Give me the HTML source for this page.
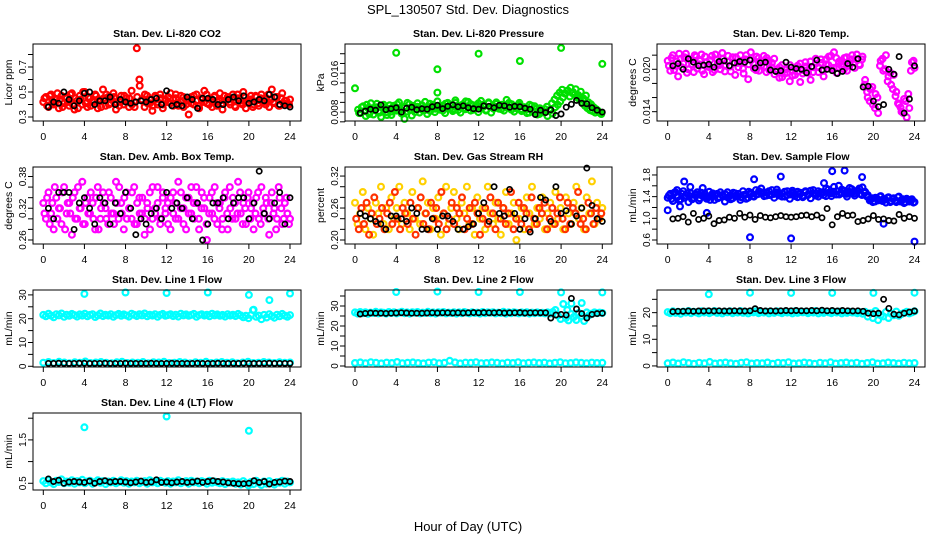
<!DOCTYPE html>
<html><head><meta charset="utf-8"><title>SPL_130507 Std. Dev. Diagnostics</title>
<style>
html,body{margin:0;padding:0;background:#fff;}
svg{display:block;font-family:"Liberation Sans",Arial,sans-serif;}
</style></head>
<body>
<svg id="chart" width="936" height="540" viewBox="0 0 936 540" xmlns="http://www.w3.org/2000/svg">
<rect width="936" height="540" fill="#fff"/>
<text x="468" y="14" text-anchor="middle" font-size="13">SPL_130507  Std. Dev. Diagnostics</text>
<text x="468" y="531" text-anchor="middle" font-size="13">Hour of Day (UTC)</text>
</svg>
<script>
var xTickValues=[0,4,8,12,16,20,24];
var xTickLabels=["0","4","8","12","16","20","24"];

var co2Main=[0.42,0.46,0.38,0.48,0.40,0.44,0.37,0.47,0.41,0.45,0.39,0.49,0.36,0.43,0.47,0.40,0.50,0.38,0.45,0.42,0.48,0.37,0.44,0.52,0.39,0.46,0.41,0.49,0.36,0.43,0.47,0.40,0.45,0.38,0.51,0.42,0.85,0.60,0.44,0.38,0.47,0.41,0.35,0.46,0.40,0.48,0.37,0.44,0.42,0.49,0.39,0.45,0.41,0.47,0.38,0.43,0.32,0.46,0.40,0.48,0.37,0.44,0.51,0.41,0.45,0.38,0.47,0.42,0.49,0.36,0.43,0.46,0.40,0.48,0.38,0.45,0.41,0.50,0.37,0.44,0.47,0.40,0.46,0.39,0.48,0.42,0.45,0.38,0.52,0.41,0.46,0.39,0.49,0.43,0.40,0.44];
var co2Extra=[0.45,0.39,0.47,0.43,0.41,0.49,0.44,0.38,0.46,0.42,0.48,0.40,0.45,0.37,0.44,0.50,0.41,0.46,0.39,0.43,0.47,0.42,0.38,0.45,0.48,0.40,0.44,0.46,0.41,0.39,0.43,0.47,0.42,0.45,0.40,0.38,0.46,0.55,0.43,0.48,0.41,0.44,0.39,0.47,0.42,0.45,0.40,0.43,0.46,0.41,0.44,0.48,0.39,0.42,0.46,0.40,0.44,0.41,0.47,0.43,0.39,0.45,0.42,0.48,0.40,0.44,0.46,0.39,0.43,0.41,0.47,0.44,0.42,0.45,0.39,0.48,0.43,0.40,0.46,0.42,0.44,0.38,0.47,0.41,0.45,0.43,0.40,0.48,0.44,0.42,0.46,0.39,0.45,0.41,0.43,0.40];
var co2Black=[0.38,0.42,0.41,0.50,0.44,0.39,0.43,0.49,0.50,0.40,0.43,0.43,0.46,0.40,0.44,0.42,0.41,0.42,0.43,0.42,0.44,0.45,0.40,0.51,0.39,0.40,0.39,0.46,0.44,0.37,0.45,0.45,0.44,0.40,0.40,0.44,0.46,0.43,0.47,0.41,0.42,0.44,0.43,0.48,0.46,0.40,0.39,0.38];
var co2TickValues=[0.3,0.4,0.5,0.6,0.7,0.8];
var co2TickLabels=["0.3","","0.5","","0.7",""];

var presMain=[0.0085,0.0078,0.0092,0.0072,0.0088,0.0098,0.0075,0.0090,0.0082,0.0070,0.0095,0.0080,0.0087,0.0074,0.0093,0.0083,0.0100,0.0077,0.0089,0.0081,0.0096,0.0073,0.0086,0.0091,0.0079,0.0094,0.0084,0.0076,0.0097,0.0088,0.0080,0.0102,0.0085,0.0093,0.0078,0.0099,0.0087,0.0082,0.0104,0.0090,0.0079,0.0096,0.0086,0.0101,0.0083,0.0094,0.0088,0.0080,0.0103,0.0091,0.0085,0.0098,0.0079,0.0092,0.0100,0.0087,0.0095,0.0083,0.0105,0.0089,0.0096,0.0081,0.0093,0.0099,0.0086,0.0090,0.0078,0.0095,0.0084,0.0092,0.0075,0.0088,0.0080,0.0086,0.0072,0.0083,0.0077,0.0090,0.0095,0.0102,0.0110,0.0118,0.0124,0.0130,0.0121,0.0127,0.0115,0.0122,0.0108,0.0114,0.0100,0.0096,0.0090,0.0086,0.0080,0.0076];
var presExtra=[0.0078,0.0090,0.0082,0.0095,0.0076,0.0088,0.0084,0.0097,0.0079,0.0092,0.0086,0.0074,0.0094,0.0081,0.0089,0.0096,0.0083,0.0077,0.0091,0.0099,0.0085,0.0093,0.0080,0.0098,0.0088,0.0084,0.0101,0.0090,0.0082,0.0095,0.0087,0.0093,0.0089,0.0083,0.0097,0.0091,0.0094,0.0086,0.0099,0.0084,0.0092,0.0088,0.0102,0.0090,0.0096,0.0085,0.0093,0.0098,0.0089,0.0095,0.0083,0.0100,0.0091,0.0087,0.0097,0.0092,0.0086,0.0094,0.0090,0.0099,0.0085,0.0091,0.0088,0.0095,0.0082,0.0090,0.0086,0.0079,0.0093,0.0081,0.0087,0.0076,0.0084,0.0079,0.0091,0.0084,0.0098,0.0106,0.0114,0.0120,0.0126,0.0118,0.0124,0.0112,0.0119,0.0116,0.0110,0.0105,0.0098,0.0093,0.0088,0.0084,0.0082,0.0079,0.0083,0.0078];
var presBlack=[0.0078,0.0082,0.0086,0.0084,0.0095,0.0085,0.0087,0.0089,0.0080,0.0088,0.0090,0.0085,0.0087,0.0086,0.0091,0.0094,0.0087,0.0092,0.0095,0.0091,0.0093,0.0089,0.0087,0.0086,0.0093,0.0092,0.0089,0.0094,0.0093,0.0090,0.0092,0.0091,0.0088,0.0086,0.0075,0.0084,0.0079,0.0085,0.0073,0.0076,0.0090,0.0096,0.0104,0.0098,0.0097,0.0089,0.0084,0.0080];
var presOutHours=[0,4,4.8,8,8,12,16,20,24];
var presOutValues=[0.0129,0.0202,0.0066,0.0168,0.0120,0.0200,0.0185,0.0212,0.0179];
var presTickValues=[0.006,0.008,0.010,0.012,0.014,0.016,0.018,0.020];
var presTickLabels=["","0.008","","","","0.016","",""];

var tempMain=[0.0212,0.0198,0.0220,0.0205,0.0190,0.0215,0.0208,0.0222,0.0200,0.0213,0.0196,0.0218,0.0207,0.0221,0.0193,0.0210,0.0203,0.0219,0.0199,0.0214,0.0206,0.0223,0.0197,0.0211,0.0204,0.0217,0.0192,0.0209,0.0220,0.0201,0.0214,0.0186,0.0224,0.0208,0.0199,0.0216,0.0205,0.0219,0.0196,0.0212,0.0203,0.0215,0.0200,0.0188,0.0206,0.0194,0.0201,0.0183,0.0198,0.0192,0.0205,0.0182,0.0199,0.0210,0.0195,0.0185,0.0203,0.0208,0.0196,0.0214,0.0190,0.0207,0.0218,0.0201,0.0224,0.0195,0.0211,0.0204,0.0216,0.0198,0.0209,0.0220,0.0202,0.0213,0.0206,0.0218,0.0185,0.0160,0.0172,0.0150,0.0165,0.0138,0.0212,0.0198,0.0220,0.0190,0.0178,0.0192,0.0168,0.0150,0.0140,0.0158,0.0132,0.0145,0.0210,0.0202];
var tempExtra=[0.0205,0.0216,0.0199,0.0211,0.0222,0.0203,0.0217,0.0195,0.0214,0.0207,0.0220,0.0201,0.0212,0.0198,0.0218,0.0204,0.0213,0.0196,0.0221,0.0208,0.0200,0.0215,0.0206,0.0219,0.0197,0.0210,0.0217,0.0203,0.0212,0.0194,0.0220,0.0207,0.0213,0.0201,0.0218,0.0198,0.0211,0.0204,0.0216,0.0199,0.0209,0.0193,0.0197,0.0203,0.0189,0.0200,0.0195,0.0206,0.0191,0.0201,0.0197,0.0208,0.0194,0.0204,0.0199,0.0211,0.0196,0.0215,0.0203,0.0209,0.0198,0.0214,0.0206,0.0219,0.0202,0.0216,0.0208,0.0212,0.0200,0.0217,0.0205,0.0214,0.0210,0.0221,0.0207,0.0214,0.0178,0.0168,0.0155,0.0175,0.0145,0.0160,0.0205,0.0215,0.0200,0.0183,0.0195,0.0172,0.0162,0.0152,0.0146,0.0138,0.0155,0.0165,0.0198,0.0212];
var tempBlack=[0.0205,0.0208,0.0200,0.0215,0.0210,0.0205,0.0206,0.0207,0.0203,0.0211,0.0212,0.0205,0.0209,0.0211,0.0210,0.0213,0.0202,0.0209,0.0210,0.0199,0.0197,0.0198,0.0210,0.0203,0.0201,0.0200,0.0195,0.0204,0.0213,0.0199,0.0200,0.0198,0.0194,0.0197,0.0208,0.0203,0.0215,0.0175,0.0176,0.0155,0.0147,0.0150,0.0200,0.0193,0.0218,0.0138,0.0158,0.0205];
var tempTickValues=[0.014,0.016,0.018,0.020,0.022];
var tempTickLabels=["0.014","","","0.020",""];

var ambMain=[0.33,0.30,0.35,0.31,0.28,0.34,0.32,0.29,0.36,0.31,0.33,0.27,0.35,0.30,0.32,0.37,0.29,0.34,0.31,0.33,0.28,0.36,0.30,0.35,0.32,0.29,0.34,0.31,0.37,0.30,0.33,0.28,0.35,0.32,0.30,0.36,0.29,0.34,0.31,0.27,0.33,0.35,0.30,0.32,0.36,0.29,0.34,0.31,0.33,0.28,0.35,0.30,0.37,0.32,0.29,0.34,0.31,0.36,0.30,0.33,0.28,0.35,0.32,0.26,0.34,0.31,0.36,0.29,0.33,0.30,0.35,0.28,0.32,0.34,0.30,0.37,0.31,0.33,0.29,0.35,0.32,0.28,0.34,0.30,0.36,0.31,0.33,0.27,0.35,0.32,0.30,0.34,0.29,0.33,0.31,0.30];
var ambExtra=[0.31,0.34,0.29,0.33,0.36,0.30,0.32,0.35,0.28,0.33,0.31,0.34,0.30,0.36,0.32,0.29,0.33,0.31,0.35,0.30,0.34,0.28,0.32,0.33,0.30,0.35,0.31,0.29,0.33,0.36,0.31,0.34,0.30,0.32,0.35,0.29,0.33,0.31,0.34,0.30,0.32,0.28,0.36,0.31,0.33,0.30,0.35,0.32,0.29,0.34,0.31,0.33,0.30,0.35,0.32,0.28,0.34,0.31,0.33,0.36,0.30,0.32,0.34,0.29,0.31,0.35,0.30,0.33,0.32,0.28,0.34,0.31,0.36,0.30,0.33,0.31,0.35,0.29,0.32,0.34,0.30,0.33,0.31,0.35,0.29,0.32,0.34,0.30,0.33,0.31,0.28,0.36,0.32,0.30,0.34,0.29];
var ambBlack=[0.32,0.30,0.35,0.35,0.35,0.28,0.33,0.34,0.32,0.29,0.34,0.33,0.29,0.33,0.31,0.35,0.32,0.27,0.30,0.29,0.31,0.32,0.30,0.35,0.32,0.33,0.32,0.34,0.30,0.33,0.26,0.29,0.33,0.33,0.34,0.30,0.33,0.34,0.34,0.30,0.33,0.39,0.31,0.30,0.33,0.35,0.29,0.34];
var ambTickValues=[0.26,0.28,0.30,0.32,0.34,0.36,0.38];
var ambTickLabels=["0.26","","","0.32","","","0.38"];

var rhRed=[0.24,0.22,0.26,0.23,0.27,0.21,0.25,0.28,0.23,0.24,0.26,0.22,0.25,0.27,0.23,0.29,0.24,0.22,0.26,0.25,0.23,0.27,0.24,0.21,0.26,0.28,0.23,0.25,0.22,0.27,0.24,0.26,0.23,0.29,0.25,0.22,0.24,0.27,0.23,0.26,0.25,0.28,0.22,0.24,0.26,0.23,0.27,0.25,0.21,0.24,0.26,0.23,0.28,0.25,0.22,0.27,0.24,0.26,0.23,0.25,0.29,0.22,0.24,0.27,0.23,0.26,0.25,0.22,0.28,0.24,0.23,0.26,0.25,0.27,0.22,0.24,0.26,0.23,0.25,0.28,0.24,0.22,0.27,0.23,0.26,0.25,0.29,0.23,0.24,0.22,0.27,0.25,0.23,0.26,0.24,0.25];
var rhYellow=[0.27,0.23,0.25,0.29,0.22,0.26,0.24,0.21,0.27,0.25,0.30,0.23,0.26,0.22,0.28,0.24,0.26,0.30,0.23,0.27,0.25,0.22,0.29,0.24,0.26,0.23,0.31,0.25,0.27,0.22,0.26,0.24,0.28,0.21,0.25,0.30,0.23,0.26,0.29,0.24,0.22,0.27,0.25,0.30,0.23,0.26,0.21,0.28,0.24,0.26,0.22,0.30,0.25,0.23,0.27,0.24,0.21,0.26,0.29,0.23,0.25,0.27,0.20,0.24,0.26,0.22,0.28,0.25,0.30,0.23,0.26,0.24,0.28,0.22,0.25,0.27,0.23,0.29,0.24,0.26,0.22,0.28,0.25,0.23,0.27,0.30,0.24,0.26,0.22,0.28,0.25,0.31,0.23,0.27,0.24,0.26];
var rhBlack=[0.25,0.245,0.24,0.235,0.23,0.22,0.245,0.245,0.24,0.235,0.26,0.25,0.22,0.22,0.24,0.22,0.245,0.245,0.235,0.22,0.22,0.225,0.23,0.25,0.27,0.235,0.30,0.25,0.245,0.295,0.25,0.22,0.24,0.215,0.24,0.28,0.275,0.235,0.30,0.25,0.255,0.23,0.245,0.26,0.335,0.265,0.24,0.235];
var rhTickValues=[0.20,0.22,0.24,0.26,0.28,0.30,0.32];
var rhTickLabels=["0.20","","","0.26","","","0.32"];

var flowMain=[1.38,1.45,1.32,1.48,1.40,1.35,1.50,1.42,1.30,1.46,1.38,1.44,1.33,1.47,1.40,1.36,1.49,1.41,1.34,1.45,1.39,1.43,1.31,1.48,1.42,1.37,1.46,1.40,1.34,1.50,1.44,1.38,1.47,1.41,1.52,1.45,1.55,1.48,1.42,1.50,1.44,1.38,1.53,1.46,1.40,1.49,1.43,1.36,1.51,1.45,1.39,1.47,1.42,1.50,1.44,1.37,1.52,1.46,1.40,1.48,1.43,1.55,1.47,1.41,1.58,1.50,1.44,1.53,1.46,1.40,1.56,1.48,1.42,1.51,1.45,1.57,1.49,1.43,1.36,1.30,1.38,1.33,1.41,1.35,1.29,1.39,1.32,1.37,1.30,1.40,1.34,1.28,1.36,1.31,1.35,1.30];
var flowExtra=[1.42,1.36,1.47,1.40,1.33,1.45,1.38,1.46,1.41,1.35,1.43,1.48,1.37,1.42,1.45,1.39,1.34,1.46,1.43,1.37,1.48,1.40,1.44,1.38,1.35,1.47,1.42,1.45,1.39,1.43,1.36,1.49,1.45,1.40,1.44,1.50,1.46,1.41,1.47,1.43,1.52,1.45,1.48,1.42,1.46,1.40,1.50,1.44,1.47,1.41,1.49,1.45,1.39,1.48,1.43,1.51,1.46,1.42,1.50,1.45,1.48,1.41,1.53,1.46,1.49,1.44,1.60,1.47,1.51,1.45,1.49,1.54,1.46,1.50,1.55,1.43,1.47,1.40,1.33,1.37,1.31,1.36,1.40,1.32,1.35,1.38,1.30,1.36,1.33,1.39,1.31,1.35,1.30,1.34,1.32,1.29];
var flowBlack=[0.99,1.00,1.03,0.93,1.09,0.98,1.00,1.04,0.90,0.96,0.97,1.02,1.00,1.09,1.02,1.06,0.98,1.05,1.02,1.01,1.03,1.05,1.03,1.02,1.03,1.05,1.06,1.03,1.06,1.01,1.18,0.88,1.03,1.09,1.05,1.06,0.94,0.96,0.99,1.05,0.98,0.99,0.96,0.95,1.07,1.00,1.03,1.00];
var flowOutHours=[0,0.9,1.6,2.2,3.4,8,8.4,11,12,15.2,16,17.2,18.9,24,21,1.2,3.8];
var flowOutValues=[1.15,1.52,1.68,1.58,1.56,0.65,1.72,1.77,0.63,1.65,1.87,1.88,1.76,0.57,0.90,1.22,1.10];
var flowTickValues=[0.6,0.8,1.0,1.2,1.4,1.6,1.8];
var flowTickLabels=["0.6","","1.0","","1.4","","1.8"];

var l1Main=[21.6,21.0,22.1,21.3,20.6,21.9,21.4,22.2,20.8,21.7,21.2,22.0,21.5,20.9,21.8,21.3,22.1,21.0,21.6,21.9,20.7,21.4,22.2,21.1,21.7,21.3,21.9,20.8,21.5,22.0,21.2,21.8,21.4,20.9,22.1,21.6,21.1,21.9,21.4,22.2,21.0,21.7,21.3,21.9,20.8,21.6,22.0,21.2,21.5,21.9,21.1,21.7,20.9,22.1,21.4,21.8,21.2,21.6,22.0,20.8,21.5,21.9,21.3,21.7,21.0,22.1,21.4,21.8,21.2,21.6,20.9,21.9,21.3,21.7,21.1,22.0,21.4,20.6,21.2,20.2,21.5,23.8,20.8,21.3,19.8,21.6,20.5,21.9,21.1,20.4,21.7,21.0,22.0,21.3,20.8,21.5];
var l1Low=[1.5,1.8,1.4,1.9,1.6,1.3,1.7,1.5,2.0,1.4,1.6,1.8,1.5,1.3,1.7,1.9,1.4,1.6,1.5,1.8,1.3,1.7,1.6,1.9,1.4,1.5,1.8,1.6,1.3,1.7,1.5,1.9,1.4,1.6,1.8,1.5,1.7,1.3,1.6,1.9,1.4,1.5,1.8,1.6,1.4,1.7,1.5,1.6];
var l1Black=[1.2,1.2,1.3,1.2,1.2,1.2,1.3,1.3,1.2,1.2,1.2,1.3,1.2,1.2,1.2,1.3,1.2,1.2,1.2,1.2,1.3,1.2,1.2,1.2,1.3,1.2,1.2,1.2,1.2,1.3,1.2,1.2,1.2,1.3,1.2,1.2,1.2,1.2,1.3,1.2,1.2,1.2,1.2,1.3,1.2,1.2,1.2,1.2];
var l1OutHours=[4,8,12,16,20,20.4,22,24];
var l1OutValues=[30.4,31.0,30.8,31.0,30.0,23.6,27.8,30.6];
var l1TickValues=[0,5,10,15,20,25,30];
var l1TickLabels=["0","","10","","20","","30"];

var l2Main=[26.8,26.2,27.0,26.4,26.9,26.1,26.7,26.5,27.1,26.3,26.8,26.6,26.2,27.0,26.5,26.9,26.3,26.7,27.1,26.4,26.8,26.2,26.9,26.6,27.0,26.3,26.7,26.5,27.1,26.4,26.8,26.2,26.9,26.6,27.0,26.3,26.7,26.5,26.9,26.2,26.8,26.4,27.0,26.6,26.3,26.9,26.5,26.7,26.2,27.0,26.4,26.8,26.6,26.9,26.3,26.7,26.5,27.1,26.2,26.8,26.4,26.9,26.6,26.3,26.8,26.5,26.9,26.2,26.7,26.4,26.8,26.5,26.6,26.3,26.8,26.2,27.0,28.0,25.2,23.5,31.0,24.0,22.8,26.0,24.5,23.0,26.5,25.0,22.5,26.8,25.5,26.2,26.8,26.4,26.7,26.5];
var l2Low=[1.5,1.8,1.4,1.9,1.6,1.3,1.7,1.5,2.0,1.4,1.6,1.8,1.5,1.3,1.7,1.9,1.4,1.6,2.6,1.8,1.3,1.7,1.6,1.9,1.4,1.5,1.8,1.6,1.3,1.7,1.5,1.9,1.4,1.6,1.8,1.5,1.7,1.3,1.6,1.9,1.4,1.5,1.8,1.6,1.4,1.7,1.5,1.6];
var l2Black=[26.0,26.3,26.5,26.4,26.4,26.3,26.4,26.5,26.6,26.5,26.4,26.4,26.4,26.5,26.6,26.5,26.6,26.6,26.5,26.6,26.5,26.6,26.7,26.6,26.7,26.6,26.6,26.7,26.5,26.6,26.6,26.7,26.5,26.6,26.6,26.6,26.6,24.0,25.5,25.8,25.5,33.8,28.5,26.2,24.0,25.8,26.2,26.4];
var l2OutHours=[4,8,12,16,20,20.6,21,22,24];
var l2OutValues=[37.0,37.2,37.0,37.0,36.8,28.0,31.2,31.5,36.8];
var l2TickValues=[0,5,10,15,20,25,30,35];
var l2TickLabels=["0","","10","","20","","30",""];

var l3Main=[20.2,19.8,20.5,19.9,20.3,19.6,20.4,20.0,20.6,19.8,20.3,20.1,19.7,20.5,20.0,20.4,19.8,20.2,20.6,19.9,20.3,19.7,20.4,20.1,20.5,19.8,20.2,20.0,20.6,19.9,20.3,19.7,20.4,20.1,20.5,19.8,20.2,20.0,20.4,19.7,20.3,19.9,20.5,20.1,19.8,20.4,20.0,20.2,19.7,20.5,19.9,20.3,20.1,20.4,19.8,20.2,20.0,20.6,19.7,20.3,19.9,20.4,20.1,19.8,20.3,20.0,20.4,19.7,20.2,19.9,20.3,20.0,20.1,19.8,20.2,19.6,20.3,18.5,19.8,18.0,20.6,17.2,19.0,18.6,20.2,18.0,19.6,19.0,20.4,18.8,19.5,19.9,20.3,19.7,20.1,20.5];
var l3Low=[1.0,1.3,0.9,1.4,1.1,0.8,1.2,1.0,1.5,0.9,1.1,1.3,1.0,0.8,1.2,1.4,0.9,1.1,1.0,1.3,0.8,1.2,1.1,1.4,0.9,1.0,1.3,1.1,0.8,1.2,1.0,1.4,0.9,1.1,1.3,1.0,1.2,0.8,1.1,1.4,0.9,1.0,1.3,1.1,0.9,1.2,1.0,1.1];
var l3Black=[20.4,20.5,20.5,20.6,20.5,20.6,20.6,20.7,20.6,20.7,20.6,20.6,20.7,20.6,20.6,20.7,21.5,20.8,20.6,20.7,20.6,20.7,20.8,20.7,20.8,20.7,20.7,20.8,20.7,20.9,20.7,20.8,20.6,20.8,20.7,20.6,20.7,20.5,19.8,19.6,19.8,25.0,21.6,19.4,19.2,19.8,20.2,20.6];
var l3OutHours=[4,8,12,16,20,24];
var l3OutValues=[26.9,27.5,27.4,27.4,27.4,27.5];
var l3TickValues=[0,5,10,15,20,25];
var l3TickLabels=["0","","10","","20",""];

var l4Main=[0.55,0.50,0.57,0.52,0.48,0.56,0.53,0.59,0.50,0.54,0.51,0.57,0.49,0.55,0.52,0.58,0.50,0.54,0.56,0.49,0.53,0.57,0.51,0.55,0.48,0.54,0.52,0.56,0.50,0.53,0.57,0.51,0.55,0.49,0.54,0.52,0.56,0.50,0.53,0.55,0.49,0.57,0.52,0.54,0.50,0.56,0.53,0.51,0.55,0.49,0.54,0.52,0.57,0.50,0.53,0.55,0.49,0.56,0.52,0.54,0.50,0.55,0.53,0.49,0.56,0.51,0.54,0.52,0.50,0.55,0.48,0.53,0.51,0.54,0.49,0.52,0.47,0.55,0.50,0.45,0.53,0.48,0.56,0.51,0.46,0.54,0.49,0.55,0.50,0.47,0.53,0.51,0.56,0.49,0.54,0.52];
var l4Black=[0.60,0.54,0.57,0.50,0.53,0.54,0.53,0.52,0.55,0.50,0.54,0.56,0.53,0.54,0.54,0.53,0.51,0.53,0.55,0.52,0.53,0.58,0.52,0.53,0.51,0.53,0.54,0.52,0.53,0.55,0.52,0.54,0.56,0.54,0.53,0.51,0.50,0.49,0.49,0.50,0.56,0.52,0.54,0.48,0.52,0.53,0.55,0.54];
var l4OutHours=[4,12,20];
var l4OutValues=[1.79,2.04,1.71];
var l4TickValues=[0.5,1.0,1.5,2.0];
var l4TickLabels=["0.5","","1.5",""];

var NS="http://www.w3.org/2000/svg";
var svg=document.getElementById("chart");
var colX=[{l:33,r:301,x0:43.3,x24:290},{l:345,r:612,x0:355,x24:602.3},{l:657,r:925,x0:667.7,x24:914.5}];
var rowY=[{t:44,b:121},{t:167,b:244},{t:290,b:367},{t:413,b:490}];

function mk(tag,attrs,parent){var e=document.createElementNS(NS,tag);for(var k in attrs)e.setAttribute(k,attrs[k]);(parent||svg).appendChild(e);return e;}

function panel(o){
  var c=colX[o.col],r=rowY[o.row];
  var g=mk("g",{});
  
  
  var xs=function(h){return c.x0+(h/24)*(c.x24-c.x0);};
  var ys=function(v){return r.b-(v-o.ymin)/(o.ymax-o.ymin)*(r.b-r.t);};
  var t=mk("text",{x:(c.l+c.r)/2,y:r.t-7,"text-anchor":"middle","font-size":"10.5","font-weight":"bold"},g);
  t.textContent=o.title;
  
  
  var yl=mk("text",{x:0,y:0,"text-anchor":"middle","font-size":"10.5",transform:"translate("+(c.l-21)+","+((r.t+r.b)/2)+") rotate(-90)"},g);
  yl.textContent=o.ylab;
  
  
  o.series.forEach(function(s){
    var isBlack=(s.color==="#000");
    var sg=mk("g",{fill:"none",stroke:s.color,"stroke-width":isBlack?"1.7":"2.2"},g);
    
    
    var n=s.values.length;
    for(var i=0;i<n;i++){
      var h=s.hours?s.hours[i]:(s.h0+(s.h1-s.h0)*i/(n-1));
      var p=mk("circle",{cx:xs(h).toFixed(1),cy:ys(s.values[i]).toFixed(1),r:isBlack?"2.6":"2.9"},sg);
      
      
    }
  });
  var bx=mk("rect",{x:c.l,y:r.t,width:c.r-c.l,height:r.b-r.t,fill:"none",stroke:"#000","stroke-width":"1"},g);
  
  
  var xa=mk("g",{stroke:"#000","stroke-width":"1"},g);
  
  
  mk("line",{x1:xs(xTickValues[0]),x2:xs(xTickValues[xTickValues.length-1]),y1:r.b,y2:r.b},xa);
  xTickValues.forEach(function(v,i){
    var x=xs(v);
    mk("line",{x1:x,x2:x,y1:r.b,y2:r.b+5},xa);
    var tl=mk("text",{x:x,y:r.b+19,"text-anchor":"middle","font-size":"10.5",stroke:"none",fill:"#000"},g);
    tl.textContent=xTickLabels[i];
    
    
  });
  var ya=mk("g",{stroke:"#000","stroke-width":"1"},g);
  
  
  mk("line",{x1:c.l,x2:c.l,y1:ys(o.ticks[0]),y2:ys(o.ticks[o.ticks.length-1])},ya);
  o.ticks.forEach(function(v,i){
    var y=ys(v);
    mk("line",{x1:c.l-5,x2:c.l,y1:y,y2:y},ya);
    if(o.tickLabels[i]){
      var tl=mk("text",{x:0,y:0,"text-anchor":"middle","font-size":"10",fill:"#000",transform:"translate("+(c.l-7)+","+y+") rotate(-90)"},g);
      tl.textContent=o.tickLabels[i];
      
      
    }
  });
}

var BLK="#000";
panel({name:"panel-co2",col:0,row:0,title:"Stan. Dev. Li-820 CO2",ylab:"Licor ppm",ymin:0.268,ymax:0.884,ticks:co2TickValues,tickLabels:co2TickLabels,
 series:[{name:"co2-series",color:"#ff0000",values:co2Main,h0:0,h1:24},{name:"co2-series-b",color:"#ff0000",values:co2Extra,h0:0.12,h1:23.9},{name:"co2-black",color:BLK,values:co2Black,h0:0.5,h1:24}]});
panel({name:"panel-pressure",col:1,row:0,title:"Stan. Dev. Li-820 Pressure",ylab:"kPa",ymin:0.00617,ymax:0.0220,ticks:presTickValues,tickLabels:presTickLabels,
 series:[{name:"pressure-series",color:"#00e000",values:presMain,h0:0.3,h1:23.9},{name:"pressure-series-b",color:"#00e000",values:presExtra,h0:0.4,h1:23.8},{name:"pressure-outliers",color:"#00e000",values:presOutValues,hours:presOutHours},{name:"pressure-black",color:BLK,values:presBlack,h0:0.5,h1:24}]});
panel({name:"panel-temp",col:2,row:0,title:"Stan. Dev. Li-820 Temp.",ylab:"degrees C",ymin:0.01268,ymax:0.02358,ticks:tempTickValues,tickLabels:tempTickLabels,
 series:[{name:"temp-series",color:"#ff00ff",values:tempMain,h0:0,h1:24},{name:"temp-series-b",color:"#ff00ff",values:tempExtra,h0:0.12,h1:23.9},{name:"temp-black",color:BLK,values:tempBlack,h0:0.5,h1:24}]});
panel({name:"panel-amb-temp",col:0,row:1,title:"Stan. Dev. Amb. Box Temp.",ylab:"degrees C",ymin:0.2524,ymax:0.398,ticks:ambTickValues,tickLabels:ambTickLabels,
 series:[{name:"amb-series",color:"#ff00ff",values:ambMain,h0:0,h1:24},{name:"amb-series-b",color:"#ff00ff",values:ambExtra,h0:0.12,h1:23.9},{name:"amb-black",color:BLK,values:ambBlack,h0:0.5,h1:24}]});
panel({name:"panel-rh",col:1,row:1,title:"Stan. Dev. Gas Stream RH",ylab:"percent",ymin:0.1925,ymax:0.337,ticks:rhTickValues,tickLabels:rhTickLabels,
 series:[{name:"rh-yellow",color:"#ffd000",values:rhYellow,h0:0,h1:24},{name:"rh-red",color:"#ff3000",values:rhRed,h0:0.12,h1:23.9},{name:"rh-black",color:BLK,values:rhBlack,h0:0.5,h1:24}]});
panel({name:"panel-sample-flow",col:2,row:1,title:"Stan. Dev. Sample Flow",ylab:"mL/min",ymin:0.526,ymax:1.947,ticks:flowTickValues,tickLabels:flowTickLabels,
 series:[{name:"flow-series",color:"#0000ff",values:flowMain,h0:0,h1:24},{name:"flow-series-b",color:"#0000ff",values:flowExtra,h0:0.12,h1:23.9},{name:"flow-outliers",color:"#0000ff",values:flowOutValues,hours:flowOutHours},{name:"flow-black",color:BLK,values:flowBlack,h0:0.5,h1:24}]});
panel({name:"panel-line1",col:0,row:2,title:"Stan. Dev. Line 1 Flow",ylab:"mL/min",ymin:-0.3,ymax:32.06,ticks:l1TickValues,tickLabels:l1TickLabels,
 series:[{name:"line1-series",color:"#00ffff",values:l1Main,h0:0,h1:24},{name:"line1-low",color:"#00ffff",values:l1Low,h0:0,h1:24},{name:"line1-outliers",color:"#00ffff",values:l1OutValues,hours:l1OutHours},{name:"line1-black",color:BLK,values:l1Black,h0:0.5,h1:24}]});
panel({name:"panel-line2",col:1,row:2,title:"Stan. Dev. Line 2 Flow",ylab:"mL/min",ymin:-0.5,ymax:38,ticks:l2TickValues,tickLabels:l2TickLabels,
 series:[{name:"line2-series",color:"#00ffff",values:l2Main,h0:0,h1:24},{name:"line2-low",color:"#00ffff",values:l2Low,h0:0,h1:24},{name:"line2-outliers",color:"#00ffff",values:l2OutValues,hours:l2OutHours},{name:"line2-black",color:BLK,values:l2Black,h0:0.5,h1:24}]});
panel({name:"panel-line3",col:2,row:2,title:"Stan. Dev. Line 3 Flow",ylab:"mL/min",ymin:-0.4,ymax:28.5,ticks:l3TickValues,tickLabels:l3TickLabels,
 series:[{name:"line3-series",color:"#00ffff",values:l3Main,h0:0,h1:24},{name:"line3-low",color:"#00ffff",values:l3Low,h0:0,h1:24},{name:"line3-outliers",color:"#00ffff",values:l3OutValues,hours:l3OutHours},{name:"line3-black",color:BLK,values:l3Black,h0:0.5,h1:24}]});
panel({name:"panel-line4",col:0,row:3,title:"Stan. Dev. Line 4 (LT) Flow",ylab:"mL/min",ymin:0.345,ymax:2.12,ticks:l4TickValues,tickLabels:l4TickLabels,
 series:[{name:"line4-series",color:"#00ffff",values:l4Main,h0:0,h1:24},{name:"line4-outliers",color:"#00ffff",values:l4OutValues,hours:l4OutHours},{name:"line4-black",color:BLK,values:l4Black,h0:0.5,h1:24}]});
</script>
</body></html>
